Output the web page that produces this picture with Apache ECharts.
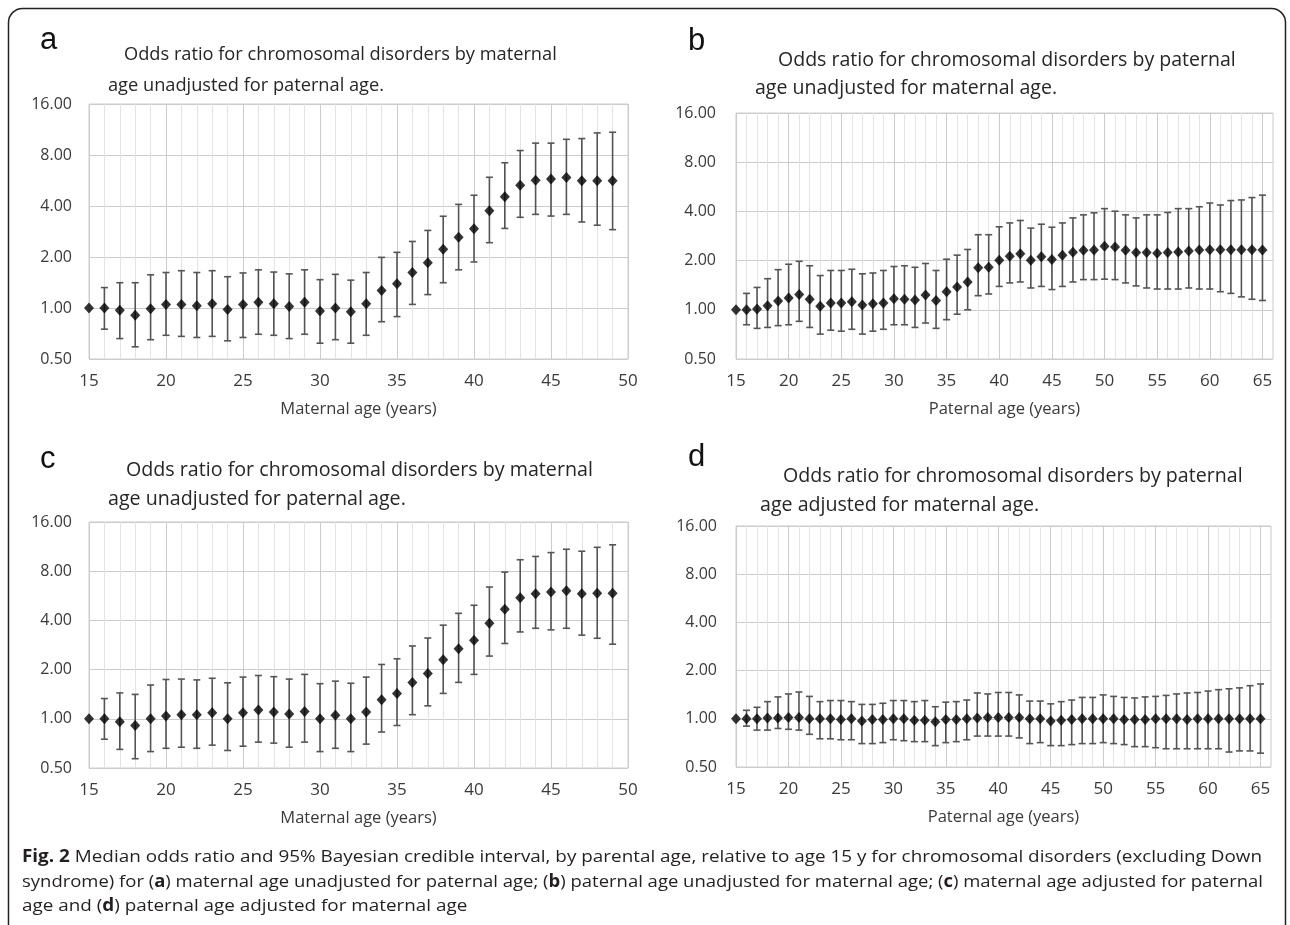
<!DOCTYPE html>
<html>
<head>
<meta charset="utf-8">
<script src="https://cdn.jsdelivr.net/npm/echarts@6/dist/echarts.min.js"></script>
<style>
  html, body { margin: 0; padding: 0; background: #fff; }
  #chart { width: 1290px; height: 925px; }
</style>
</head>
<body>
<div id="chart"></div>
<script>
// ---- Data: median odds ratio and 95% credible interval by age ----
const maternalAges = [15, 16, 17, 18, 19, 20, 21, 22, 23, 24, 25, 26, 27, 28, 29, 30, 31, 32, 33, 34, 35, 36, 37, 38, 39, 40, 41, 42, 43, 44, 45, 46, 47, 48, 49];
const paternalAges = [15, 16, 17, 18, 19, 20, 21, 22, 23, 24, 25, 26, 27, 28, 29, 30, 31, 32, 33, 34, 35, 36, 37, 38, 39, 40, 41, 42, 43, 44, 45, 46, 47, 48, 49, 50, 51, 52, 53, 54, 55, 56, 57, 58, 59, 60, 61, 62, 63, 64, 65];

// (a) maternal age, unadjusted for paternal age
const aMedian = [1.00, 1.00, 0.97, 0.905, 0.99, 1.05, 1.05, 1.03, 1.06, 0.98, 1.05, 1.08, 1.06, 1.02, 1.08, 0.96, 1.00, 0.95, 1.06, 1.27, 1.39, 1.62, 1.85, 2.22, 2.62, 2.94, 3.75, 4.54, 5.30, 5.67, 5.77, 5.90, 5.64, 5.64, 5.64];
const aLower  = [null, 0.75, 0.66, 0.59, 0.65, 0.69, 0.68, 0.67, 0.68, 0.64, 0.67, 0.70, 0.69, 0.66, 0.70, 0.62, 0.65, 0.62, 0.69, 0.83, 0.89, 1.05, 1.20, 1.41, 1.68, 1.87, 2.43, 2.95, 3.43, 3.57, 3.49, 3.57, 3.22, 3.08, 2.90];
const aUpper  = [null, 1.32, 1.41, 1.41, 1.57, 1.62, 1.66, 1.62, 1.66, 1.53, 1.61, 1.68, 1.63, 1.59, 1.68, 1.47, 1.58, 1.46, 1.62, 1.99, 2.13, 2.47, 2.87, 3.48, 4.09, 4.63, 5.91, 7.20, 8.50, 9.40, 9.40, 9.90, 10.0, 10.8, 10.9];

// (b) paternal age, unadjusted for maternal age
const bMedian = [1.00, 1.00, 1.01, 1.06, 1.13, 1.18, 1.24, 1.16, 1.05, 1.10, 1.10, 1.12, 1.07, 1.09, 1.10, 1.17, 1.16, 1.15, 1.23, 1.14, 1.29, 1.38, 1.48, 1.81, 1.82, 2.01, 2.13, 2.20, 2.01, 2.11, 2.03, 2.16, 2.25, 2.31, 2.32, 2.45, 2.42, 2.31, 2.24, 2.24, 2.22, 2.24, 2.26, 2.29, 2.32, 2.33, 2.33, 2.33, 2.33, 2.33, 2.32];
const bLower  = [null, 0.81, 0.77, 0.78, 0.80, 0.81, 0.85, 0.78, 0.71, 0.75, 0.74, 0.76, 0.71, 0.74, 0.76, 0.81, 0.81, 0.78, 0.83, 0.77, 0.87, 0.94, 1.00, 1.22, 1.25, 1.39, 1.46, 1.48, 1.36, 1.39, 1.33, 1.39, 1.48, 1.53, 1.53, 1.54, 1.53, 1.46, 1.40, 1.36, 1.34, 1.34, 1.34, 1.36, 1.34, 1.34, 1.29, 1.26, 1.20, 1.16, 1.14];
const bUpper  = [null, 1.26, 1.37, 1.55, 1.76, 1.90, 1.98, 1.86, 1.62, 1.74, 1.74, 1.77, 1.66, 1.68, 1.74, 1.84, 1.86, 1.82, 1.92, 1.74, 2.04, 2.16, 2.34, 2.88, 2.88, 3.22, 3.40, 3.52, 3.16, 3.34, 3.20, 3.40, 3.65, 3.81, 3.92, 4.16, 4.01, 3.81, 3.65, 3.81, 3.81, 3.94, 4.16, 4.16, 4.27, 4.50, 4.38, 4.66, 4.70, 4.86, 5.03];

// (c) maternal age
const cMedian = [1.00, 1.00, 0.96, 0.91, 1.00, 1.04, 1.06, 1.06, 1.09, 1.00, 1.09, 1.13, 1.10, 1.07, 1.11, 1.00, 1.05, 1.00, 1.10, 1.31, 1.43, 1.67, 1.89, 2.30, 2.68, 3.02, 3.84, 4.68, 5.51, 5.83, 5.97, 6.08, 5.83, 5.86, 5.86];
const cLower  = [null, 0.75, 0.65, 0.57, 0.63, 0.66, 0.67, 0.66, 0.69, 0.64, 0.68, 0.72, 0.71, 0.67, 0.72, 0.63, 0.66, 0.63, 0.70, 0.83, 0.91, 1.06, 1.20, 1.43, 1.67, 1.87, 2.42, 2.89, 3.40, 3.58, 3.50, 3.58, 3.25, 3.11, 2.86];
const cUpper  = [null, 1.33, 1.44, 1.41, 1.61, 1.74, 1.75, 1.73, 1.77, 1.66, 1.80, 1.84, 1.81, 1.75, 1.87, 1.64, 1.70, 1.65, 1.80, 2.15, 2.33, 2.79, 3.12, 3.74, 4.42, 4.95, 6.40, 7.90, 9.40, 9.85, 10.4, 10.9, 10.6, 11.2, 11.6];

// (d) paternal age, adjusted for maternal age
const dMedian = [1.00, 1.00, 1.00, 1.01, 1.01, 1.02, 1.02, 1.00, 1.00, 1.00, 0.99, 1.00, 0.97, 0.99, 0.99, 1.00, 1.00, 0.98, 0.98, 0.96, 0.99, 0.99, 1.00, 1.01, 1.02, 1.02, 1.02, 1.02, 1.00, 1.00, 0.97, 0.98, 0.99, 1.00, 1.00, 1.00, 1.00, 0.99, 0.99, 0.99, 1.00, 1.00, 1.00, 0.99, 1.00, 1.00, 1.00, 1.00, 1.00, 1.00, 1.00];
const dLower  = [null, 0.90, 0.85, 0.85, 0.87, 0.86, 0.85, 0.80, 0.75, 0.75, 0.74, 0.74, 0.70, 0.70, 0.71, 0.74, 0.73, 0.72, 0.72, 0.68, 0.71, 0.72, 0.74, 0.78, 0.78, 0.78, 0.78, 0.76, 0.70, 0.71, 0.68, 0.68, 0.69, 0.70, 0.70, 0.71, 0.70, 0.69, 0.67, 0.67, 0.66, 0.65, 0.65, 0.65, 0.65, 0.65, 0.65, 0.62, 0.63, 0.63, 0.61];
const dUpper  = [null, 1.13, 1.18, 1.28, 1.37, 1.43, 1.47, 1.38, 1.28, 1.30, 1.30, 1.28, 1.23, 1.23, 1.25, 1.30, 1.30, 1.28, 1.30, 1.19, 1.27, 1.28, 1.31, 1.45, 1.43, 1.46, 1.46, 1.41, 1.29, 1.29, 1.24, 1.28, 1.31, 1.36, 1.36, 1.41, 1.38, 1.36, 1.35, 1.37, 1.38, 1.40, 1.43, 1.45, 1.46, 1.49, 1.52, 1.54, 1.56, 1.61, 1.65];

// ---- Axis settings and texts ----
const oddsTicks = [0.5, 1, 2, 4, 8, 16];
const maternalRange = [15, 50];
const paternalRange = [15, 66];

const panelLetters = ['a', 'b', 'c', 'd'];
const panelTitles = [
  ['Odds ratio for chromosomal disorders by maternal', 'age unadjusted for paternal age.'],
  ['Odds ratio for chromosomal disorders by paternal', 'age unadjusted for maternal age.'],
  ['Odds ratio for chromosomal disorders by maternal', 'age unadjusted for paternal age.'],
  ['Odds ratio for chromosomal disorders by paternal', 'age adjusted for maternal age.']
];
const axisNames = ['Maternal age (years)', 'Paternal age (years)', 'Maternal age (years)', 'Paternal age (years)'];

const captionLines = [
  '{b|Fig. 2} Median odds ratio and 95% Bayesian credible interval, by parental age, relative to age 15 y for chromosomal disorders (excluding Down',
  'syndrome) for ({b|a}) maternal age unadjusted for paternal age; ({b|b}) paternal age unadjusted for maternal age; ({b|c}) maternal age adjusted for paternal',
  'age and ({b|d}) paternal age adjusted for maternal age'
];

// ---- Layout ----
const FONT = '"Open Sans", "Noto Sans", sans-serif';
const panels = [
  { ages: maternalAges, med: aMedian, lo: aLower, hi: aUpper, range: maternalRange,
    grid: { left: 89, top: 104, width: 539, height: 255 }, yMargin: 17,
    letter: [40, 40.5], title: [[124, 55], [108, 86]], titleWidth: 433 },
  { ages: paternalAges, med: bMedian, lo: bLower, hi: bUpper, range: paternalRange,
    grid: { left: 736, top: 113, width: 537, height: 246 }, yMargin: 20,
    letter: [688, 41], title: [[778, 60], [755, 88]], titleWidth: 458 },
  { ages: maternalAges, med: cMedian, lo: cLower, hi: cUpper, range: maternalRange,
    grid: { left: 89, top: 522, width: 539, height: 246 }, yMargin: 17,
    letter: [40, 459.5], title: [[126, 470], [108, 499]], titleWidth: 467 },
  { ages: paternalAges, med: dMedian, lo: dLower, hi: dUpper, range: paternalRange,
    grid: { left: 736, top: 526, width: 535, height: 241 }, yMargin: 19,
    letter: [688, 457.5], title: [[783, 476], [760, 505]], titleWidth: 460 }
];

const measureCtx = document.createElement('canvas').getContext('2d');
function textWidth(text, font) {
  measureCtx.font = font;
  return measureCtx.measureText(text).width;
}
function fitFontSize(text, target) {
  return 100 * target / textWidth(text, '100px ' + FONT);
}

const MAJOR = '#cccccc';
const MINOR = '#e3e3e3';
const BAR = '#555555';
const LABEL = '#3a3a3a';

function renderErrorBar(params, api) {
  const x = api.value(0);
  const p1 = api.coord([x, api.value(1)]);
  const p2 = api.coord([x, api.value(2)]);
  const cap = 3.5;
  const style = { stroke: BAR, lineWidth: 1.6 };
  return {
    type: 'group',
    children: [
      { type: 'line', shape: { x1: p1[0], y1: p1[1], x2: p2[0], y2: p2[1] }, style },
      { type: 'line', shape: { x1: p1[0] - cap, y1: p1[1], x2: p1[0] + cap, y2: p1[1] }, style },
      { type: 'line', shape: { x1: p2[0] - cap, y1: p2[1], x2: p2[0] + cap, y2: p2[1] }, style }
    ]
  };
}

const grids = [], xAxes = [], yAxes = [], series = [], graphics = [];

panels.forEach((p, i) => {
  grids.push(Object.assign({ show: true, borderColor: MAJOR, borderWidth: 1, containLabel: false }, p.grid));

  xAxes.push({
    type: 'value', gridIndex: i,
    min: p.range[0], max: p.range[1], interval: 1,
    axisLine: { show: false }, axisTick: { show: false },
    axisLabel: {
      margin: 14, fontSize: 17, color: LABEL, fontFamily: FONT,
      formatter: v => (v % 5 === 0 ? String(v) : '')
    },
    splitLine: { show: true, lineStyle: { color: [MAJOR, MINOR, MINOR, MINOR, MINOR], width: 1 } },
    name: axisNames[i], nameLocation: 'middle', nameGap: 42,
    nameTextStyle: { fontSize: 16.5, color: LABEL, fontFamily: FONT }
  });

  yAxes.push({
    type: 'log', logBase: 2, gridIndex: i,
    min: oddsTicks[0], max: oddsTicks[oddsTicks.length - 1], interval: 1, splitNumber: oddsTicks.length - 1,
    axisLine: { show: false }, axisTick: { show: false },
    axisLabel: { margin: p.yMargin, fontSize: 16, color: LABEL, fontFamily: FONT, formatter: v => v.toFixed(2) },
    splitLine: { show: true, lineStyle: { color: MAJOR, width: 1 } }
  });

  const bars = [];
  p.ages.forEach((age, k) => {
    if (p.lo[k] != null) bars.push([age, p.lo[k], p.hi[k]]);
  });
  series.push({
    type: 'custom', xAxisIndex: i, yAxisIndex: i,
    renderItem: renderErrorBar, data: bars,
    encode: { x: 0, y: [1, 2] }, silent: true, z: 2
  });
  series.push({
    type: 'scatter', xAxisIndex: i, yAxisIndex: i,
    data: p.ages.map((age, k) => [age, p.med[k]]),
    symbol: 'diamond', symbolSize: [10, 11],
    itemStyle: { color: '#000' }, silent: true, z: 3
  });

  graphics.push({
    type: 'text', x: p.letter[0], y: p.letter[1],
    style: { text: panelLetters[i], fontSize: 31, fontFamily: '"Liberation Sans", Arial, sans-serif', fill: '#111', verticalAlign: 'middle' }
  });
  const tSize = fitFontSize(panelTitles[i][0], p.titleWidth);
  panelTitles[i].forEach((line, j) => {
    graphics.push({
      type: 'text', x: p.title[j][0], y: p.title[j][1],
      style: { text: line, fontSize: tSize, fontFamily: FONT, fill: '#262626', verticalAlign: 'middle' }
    });
  });
});

// Figure caption, condensed horizontally so each full line spans the figure width
const capSize = 17;
function richWidth(line) {
  let w = 0;
  line.split(/(\{b\|[^}]*\})/).forEach(seg => {
    const m = seg.match(/^\{b\|([^}]*)\}$/);
    if (m) w += textWidth(m[1], 'bold ' + capSize + 'px ' + FONT);
    else if (seg) w += textWidth(seg, capSize + 'px ' + FONT);
  });
  return w;
}
const capWidths = [1240, 1241, null];
const capY = [857, 882, 906];
const baseScale = capWidths[0] / richWidth(captionLines[0]);
captionLines.forEach((line, j) => {
  const s = capWidths[j] ? capWidths[j] / richWidth(line) : baseScale;
  graphics.push({
    type: 'text', x: 22, y: capY[j], scaleX: s, scaleY: 1,
    style: {
      text: line, fontSize: capSize, fontFamily: FONT, fill: '#231f20', verticalAlign: 'middle',
      rich: { b: { fontWeight: 'bold', fontSize: capSize, fontFamily: FONT, fill: '#231f20' } }
    }
  });
});

// Rounded frame around the whole figure
graphics.push({
  type: 'rect', shape: { x: 8.5, y: 8.5, width: 1277, height: 930, r: 14 },
  style: { fill: 'none', stroke: '#222', lineWidth: 1.5 }, silent: true
});

const chart = echarts.init(document.getElementById('chart'), null, { renderer: 'canvas' });
chart.setOption({
  animation: false,
  backgroundColor: '#fff',
  grid: grids,
  xAxis: xAxes,
  yAxis: yAxes,
  series: series,
  graphic: { elements: graphics }
});
</script>
</body>
</html>
